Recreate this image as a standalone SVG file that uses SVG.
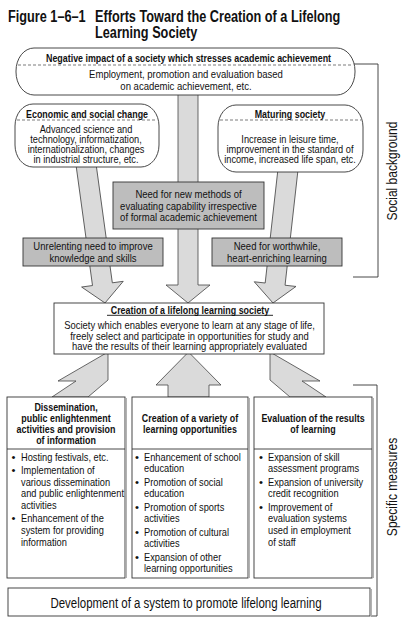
<svg xmlns="http://www.w3.org/2000/svg" width="406" height="625" viewBox="0 0 406 625">
<style>
text{font-family:"Liberation Sans",Arial,Helvetica,sans-serif;fill:#111;}
.r{font-size:11.3px;}
.p{font-size:10.6px;}
.g{font-size:11.6px;}
.c{font-size:11.1px;}
.b{font-weight:bold;font-size:11.4px;}
.h{font-weight:bold;font-size:16.5px;}
.v{font-size:14px;}
.d{font-size:14px;}
.box{fill:#fff;stroke:#333;stroke-width:0.9;}
.gbox{fill:#bdbdbd;stroke:#333;stroke-width:0.9;}
.arr{fill:#dadada;stroke:#444;stroke-width:0.8;}
.dash{stroke:#444;stroke-width:0.7;stroke-dasharray:3 2;fill:none;}
.brk{fill:none;stroke:#333;stroke-width:0.9;}
.sh{stroke:#aaa;stroke-width:1.4;}
</style>
<rect width="406" height="625" fill="#fff"/>

<g id="title">
<text class="h" transform="translate(8,22) scale(0.77,1)">Figure 1–6–1</text>
<text class="h" transform="translate(95,22) scale(0.77,1)">Efforts Toward the Creation of a Lifelong</text>
<text class="h" transform="translate(95,38) scale(0.77,1)">Learning Society</text>
</g>

<g id="connectors">
<path class="arr" d="M188,303 L210,285 L198,285 L198,92 L178,92 L178,285 L166,285 Z"/>
<path class="arr" transform="translate(105,303) rotate(-7.8)" d="M0,0 L-21,-19 L-10,-19 L-10,-150 L10,-150 L10,-19 L21,-19 Z"/>
<path class="arr" transform="translate(273,303) rotate(6.4)" d="M0,0 L-21,-19 L-10,-19 L-10,-150 L10,-150 L10,-19 L21,-19 Z"/>
<path class="arr" d="M188.5,352 L221,385 L209,385 L209,397 L168,397 L168,385 L156,385 Z"/>
<path class="arr" d="M108,352 L108,380 L88,397 L52,397 L76,381 L58,381 Z"/>
<path class="arr" d="M270,352 L270,380 L290,397 L326,397 L302,381 L320,381 Z"/>
<polyline class="brk" points="354,64 378,64 378,277 353,277"/>
<polyline class="brk" points="353,385 377,385 377,616 371,616"/>
</g>

<g id="negative-impact">
<rect class="box" x="16" y="48" width="339" height="47" rx="18" ry="23"/>
<line class="dash" x1="18" y1="65" x2="353" y2="65"/>
<text class="b" text-anchor="middle" transform="translate(188.5,61.5) scale(0.78,1)">Negative impact of a society which stresses academic achievement</text>
<text class="r" text-anchor="middle" transform="translate(186,0) scale(0.83,1)" style="font-size:11.5px"><tspan x="0" y="78">Employment, promotion and evaluation based</tspan><tspan x="0" y="90">on academic achievement, etc.</tspan></text>
</g>

<g id="economic-social-change">
<rect class="box" x="15" y="104" width="144" height="63" rx="18" ry="22"/>
<line class="dash" x1="17" y1="120" x2="157" y2="120"/>
<text class="b" text-anchor="middle" transform="translate(87,118) scale(0.78,1)">Economic and social change</text>
<text class="p" text-anchor="middle" transform="translate(86,0) scale(0.87,1)"><tspan x="0" y="133">Advanced science and</tspan><tspan x="0" y="143">technology, informatization,</tspan><tspan x="0" y="153">internationalization, changes</tspan><tspan x="0" y="163">in industrial structure, etc.</tspan></text>
</g>

<g id="maturing-society">
<rect class="box" x="218" y="105" width="145" height="67" rx="18" ry="22"/>
<line class="dash" x1="220" y1="120" x2="361" y2="120"/>
<text class="b" text-anchor="middle" transform="translate(290,118) scale(0.78,1)">Maturing society</text>
<text class="p" text-anchor="middle" transform="translate(290,0) scale(0.87,1)"><tspan x="0" y="143">Increase in leisure time,</tspan><tspan x="0" y="153">improvement in the standard of</tspan><tspan x="0" y="163.5">income, increased life span, etc.</tspan></text>
</g>

<g id="need-new-methods">
<rect class="gbox" x="113" y="182" width="151" height="47"/>
<text class="g" text-anchor="middle" transform="translate(188.5,0) scale(0.82,1)"><tspan x="0" y="198">Need for new methods of</tspan><tspan x="0" y="210">evaluating capability irrespective</tspan><tspan x="0" y="221.5">of formal academic achievement</tspan></text>
</g>

<g id="need-improve-knowledge">
<rect class="gbox" x="23" y="238" width="140" height="28"/>
<text class="g" text-anchor="middle" transform="translate(93,0) scale(0.82,1)"><tspan x="0" y="250.5">Unrelenting need to improve</tspan><tspan x="0" y="262.5">knowledge and skills</tspan></text>
</g>

<g id="need-worthwhile">
<rect class="gbox" x="212" y="238" width="130" height="28"/>
<text class="g" text-anchor="middle" transform="translate(277,0) scale(0.82,1)"><tspan x="0" y="250.5">Need for worthwhile,</tspan><tspan x="0" y="262.5">heart-enriching learning</tspan></text>
</g>

<g id="social-background">
<text class="v" text-anchor="middle" transform="translate(397,171) rotate(-90) scale(0.86,1)">Social background</text>
</g>

<g id="lifelong-society">
<rect class="box" x="54" y="303" width="270" height="51"/>
<text class="b" text-anchor="middle" transform="translate(190,313.5) scale(0.78,1)">Creation of a lifelong learning society</text>
<line x1="107" y1="315.3" x2="273" y2="315.3" stroke="#111" stroke-width="0.9"/>
<text class="c" text-anchor="middle" transform="translate(189.5,0) scale(0.85,1)"><tspan x="0" y="329">Society which enables everyone to learn at any stage of life,</tspan><tspan x="0" y="340">freely select and participate in opportunities for study and</tspan><tspan x="0" y="350.5">have the results of their learning appropriately evaluated</tspan></text>
</g>

<g id="dissemination">
<rect class="box" x="7" y="397" width="118" height="181"/>
<line class="sh" x1="126.2" y1="398" x2="126.2" y2="578"/>
<line x1="7" y1="449" x2="125" y2="449" stroke="#333" stroke-width="0.9"/>
<text class="b" text-anchor="middle" transform="translate(66,0) scale(0.78,1)"><tspan x="0" y="411">Dissemination,</tspan><tspan x="0" y="422">public enlightenment</tspan><tspan x="0" y="433">activities and provision</tspan><tspan x="0" y="444">of information</tspan></text>
<text class="r" text-anchor="middle"><tspan x="13.5" y="460.7">•</tspan><tspan x="13.5" y="474">•</tspan><tspan x="13.5" y="522.4">•</tspan></text>
<text class="r" transform="translate(21,0) scale(0.82,1)"><tspan x="0" y="460.7">Hosting festivals, etc.</tspan><tspan x="0" y="474">Implementation of</tspan><tspan x="0" y="485.7">various dissemination</tspan><tspan x="0" y="497.4">and public enlightenment</tspan><tspan x="0" y="509.1">activities</tspan><tspan x="0" y="522.4">Enhancement of the</tspan><tspan x="0" y="534.1">system for providing</tspan><tspan x="0" y="545.8">information</tspan></text>
</g>

<g id="variety-opportunities">
<rect class="box" x="132" y="397" width="116" height="181"/>
<line class="sh" x1="249.2" y1="398" x2="249.2" y2="578"/>
<line x1="132" y1="449" x2="248" y2="449" stroke="#333" stroke-width="0.9"/>
<text class="b" text-anchor="middle" transform="translate(190,0) scale(0.78,1)"><tspan x="0" y="422">Creation of a variety of</tspan><tspan x="0" y="433">learning opportunities</tspan></text>
<text class="r" text-anchor="middle"><tspan x="137" y="460.7">•</tspan><tspan x="137" y="485.7">•</tspan><tspan x="137" y="510.7">•</tspan><tspan x="137" y="535.7">•</tspan><tspan x="137" y="560.7">•</tspan></text>
<text class="r" transform="translate(144,0) scale(0.82,1)"><tspan x="0" y="460.7">Enhancement of school</tspan><tspan x="0" y="472.4">education</tspan><tspan x="0" y="485.7">Promotion of social</tspan><tspan x="0" y="497.4">education</tspan><tspan x="0" y="510.7">Promotion of sports</tspan><tspan x="0" y="522.4">activities</tspan><tspan x="0" y="535.7">Promotion of cultural</tspan><tspan x="0" y="547.4">activities</tspan><tspan x="0" y="560.7">Expansion of other</tspan><tspan x="0" y="572.4">learning opportunities</tspan></text>
</g>

<g id="evaluation-results">
<rect class="box" x="254" y="397" width="118" height="181"/>
<line class="sh" x1="373.2" y1="398" x2="373.2" y2="578"/>
<line x1="254" y1="449" x2="372" y2="449" stroke="#333" stroke-width="0.9"/>
<text class="b" text-anchor="middle" transform="translate(313,0) scale(0.78,1)"><tspan x="0" y="422">Evaluation of the results</tspan><tspan x="0" y="433">of learning</tspan></text>
<text class="r" text-anchor="middle"><tspan x="261" y="460.7">•</tspan><tspan x="261" y="485.7">•</tspan><tspan x="261" y="510.7">•</tspan></text>
<text class="r" transform="translate(268,0) scale(0.82,1)"><tspan x="0" y="460.7">Expansion of skill</tspan><tspan x="0" y="472.4">assessment programs</tspan><tspan x="0" y="485.7">Expansion of university</tspan><tspan x="0" y="497.4">credit recognition</tspan><tspan x="0" y="510.7">Improvement of</tspan><tspan x="0" y="522.4">evaluation systems</tspan><tspan x="0" y="534.1">used in employment</tspan><tspan x="0" y="545.8">of staff</tspan></text>
</g>

<g id="promotion-system">
<rect class="box" x="8" y="588" width="362" height="28"/>
<line class="sh" x1="371.2" y1="589" x2="371.2" y2="616"/>
<text class="d" text-anchor="middle" transform="translate(186,608) scale(0.82,1)">Development of a system to promote lifelong learning</text>
</g>

<g id="specific-measures">
<text class="v" text-anchor="middle" transform="translate(397,487) rotate(-90) scale(0.86,1)">Specific measures</text>
</g>
</svg>
